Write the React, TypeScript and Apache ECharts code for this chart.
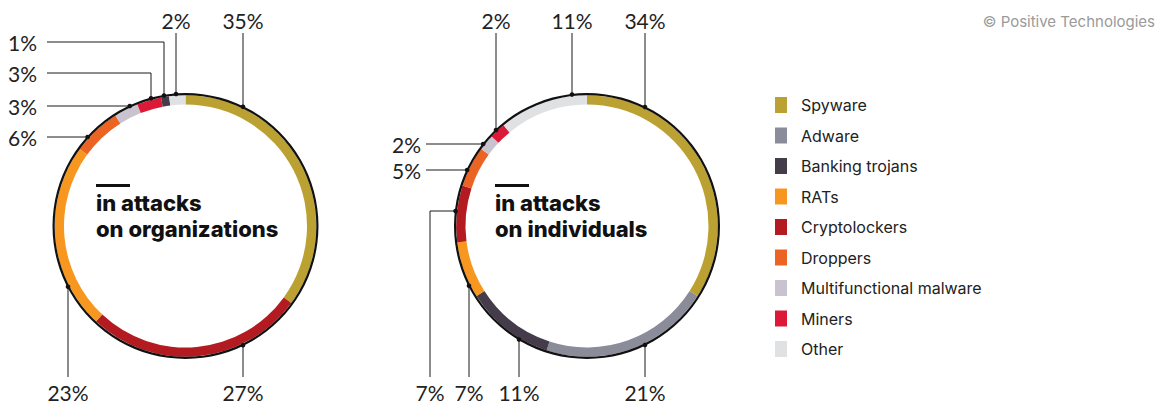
import React, { useEffect, useRef } from 'react';
import * as echarts from 'echarts';

// ---------- data ----------
const categories = [
  'Spyware',
  'Adware',
  'Banking trojans',
  'RATs',
  'Cryptolockers',
  'Droppers',
  'Multifunctional malware',
  'Miners',
  'Other',
];
const categoryColors = [
  '#BBA032',
  '#8A8D99',
  '#453C4B',
  '#F7971F',
  '#B31B21',
  '#EB6424',
  '#C8C3CF',
  '#DC1A37',
  '#E0E1E3',
];

// attacks on organizations (clockwise from top)
const orgCategories = [
  'Spyware',
  'Cryptolockers',
  'RATs',
  'Droppers',
  'Multifunctional malware',
  'Miners',
  'Banking trojans',
  'Other',
];
const orgValues = [35, 27, 23, 6, 3, 3, 1, 2];

// attacks on individuals (clockwise from top)
const indCategories = [
  'Spyware',
  'Adware',
  'Banking trojans',
  'RATs',
  'Cryptolockers',
  'Droppers',
  'Multifunctional malware',
  'Miners',
  'Other',
];
const indValues = [34, 21, 11, 7, 7, 5, 2, 2, 11];

const orgTitle = 'in attacks\non organizations';
const indTitle = 'in attacks\non individuals';
const copyright = '© Positive Technologies';

// ---------- layout ----------
type Kind = 'top' | 'bottom' | 'left' | 'elbow' | 'elbowUp';
type Spec = { kind: Kind; x?: number; y?: number };

const ORG_CENTER = [185.5, 226];
const IND_CENTER = [587, 226];
const R_IN = 121.5;
const R_BAND = 130.8;
const R_OUT = 133;
const R_ANCHOR = 132.3;
const TOP_TEXT_Y = 20.5;
const TOP_LINE_Y = 33;
const BOTTOM_TEXT_Y = 392;
const BOTTOM_LINE_Y = 377;

const orgLabelSpecs: Spec[] = [
  { kind: 'top', x: 243 },
  { kind: 'bottom', x: 243 },
  { kind: 'bottom', x: 68 },
  { kind: 'left', y: 137 },
  { kind: 'left', y: 106 },
  { kind: 'elbow', x: 151, y: 73 },
  { kind: 'elbow', x: 164, y: 42 },
  { kind: 'top', x: 176 },
];
const indLabelSpecs: Spec[] = [
  { kind: 'top', x: 645 },
  { kind: 'bottom', x: 645 },
  { kind: 'bottom', x: 519 },
  { kind: 'bottom', x: 469 },
  { kind: 'elbowUp', x: 430, y: 211 },
  { kind: 'left', y: 170 },
  { kind: 'left', y: 144 },
  { kind: 'top', x: 496 },
  { kind: 'top', x: 572 },
];

const LABEL_FONT = 'Lato';
const UI_FONT = 'Inter';
const TEXT_COLOR = '#222';

function anchorPoint(center: number[], s: Spec): number[] {
  const [cx, cy] = center;
  const r = R_ANCHOR;
  if (s.kind === 'top' || s.kind === 'elbow') {
    const dx = (s.x as number) - cx;
    return [s.x as number, cy - Math.sqrt(r * r - dx * dx)];
  }
  if (s.kind === 'bottom') {
    const dx = (s.x as number) - cx;
    return [s.x as number, cy + Math.sqrt(r * r - dx * dx)];
  }
  const dy = (s.y as number) - cy;
  return [cx - Math.sqrt(r * r - dy * dy), s.y as number];
}

function makeLayout(center: number[], specs: Spec[], leftTextX: number, leftLineX: number) {
  return (params: any) => {
    const s = specs[params.dataIndex];
    if (!s) return {};
    const a = anchorPoint(center, s);
    switch (s.kind) {
      case 'top':
        return {
          x: s.x, y: TOP_TEXT_Y, align: 'center', verticalAlign: 'middle',
          labelLinePoints: [a, [s.x, TOP_LINE_Y]],
        };
      case 'bottom':
        return {
          x: s.x, y: BOTTOM_TEXT_Y, align: 'center', verticalAlign: 'middle',
          labelLinePoints: [a, [s.x, BOTTOM_LINE_Y]],
        };
      case 'left':
        return {
          x: leftTextX, y: s.y, align: 'left', verticalAlign: 'middle',
          labelLinePoints: [a, [leftLineX, s.y]],
        };
      case 'elbow':
        return {
          x: leftTextX, y: s.y, align: 'left', verticalAlign: 'middle',
          labelLinePoints: [a, [s.x, s.y], [leftLineX, s.y]],
        };
      case 'elbowUp':
      default:
        return {
          x: s.x, y: BOTTOM_TEXT_Y, align: 'center', verticalAlign: 'middle',
          labelLinePoints: [a, [s.x, s.y], [s.x, BOTTOM_LINE_Y]],
        };
    }
  };
}

function colorOf(name: string) {
  return categoryColors[categories.indexOf(name)];
}

function ringSeries(center: number[], names: string[], values: number[], specs: Spec[], leftTextX: number, leftLineX: number) {
  return {
    type: 'pie',
    center,
    radius: [R_IN, R_BAND],
    startAngle: 90,
    clockwise: true,
    avoidLabelOverlap: false,
    silent: true,
    emphasis: { disabled: true },
    itemStyle: { borderWidth: 0 },
    label: {
      show: true,
      position: 'outside',
      formatter: '{c}%',
      fontFamily: LABEL_FONT,
      fontSize: 21,
      lineHeight: 19,
      fontWeight: 400,
      color: TEXT_COLOR,
      overflow: 'none',
    },
    labelLine: {
      show: true,
      length: 10,
      length2: 10,
      smooth: false,
      lineStyle: { color: '#1a1a1a', width: 1 },
    },
    labelLayout: makeLayout(center, specs, leftTextX, leftLineX),
    data: names.map((n, i) => ({ name: n, value: values[i], itemStyle: { color: colorOf(n) } })),
  };
}

function outlineSeries(center: number[]) {
  return {
    type: 'pie',
    center,
    radius: [R_BAND, R_OUT],
    silent: true,
    emphasis: { disabled: true },
    label: { show: false },
    labelLine: { show: false },
    itemStyle: { color: '#111' },
    data: [{ name: '', value: 1 }],
  };
}

function dots(center: number[], specs: Spec[]) {
  return specs.map((s) => {
    const a = anchorPoint(center, s);
    return { type: 'circle', shape: { cx: a[0], cy: a[1], r: 2.3 }, style: { fill: '#111' }, z: 100 };
  });
}

function centerTitle(x: number, text: string) {
  return [
    { type: 'rect', shape: { x, y: 184, width: 34, height: 3 }, style: { fill: '#111' }, z: 50 },
    {
      type: 'text', x, y: 190, z: 50,
      style: { text, font: `800 22px ${UI_FONT}`, fill: '#111', lineHeight: 26, textVerticalAlign: 'top' },
    },
  ];
}

export default function App() {
  const ref = useRef<HTMLDivElement>(null);
  useEffect(() => {
    document.body.style.margin = '0';
    if (!ref.current) return;
    const chart = echarts.init(ref.current, undefined, { renderer: 'svg' });
    chart.setOption({
      animation: false,
      backgroundColor: '#fff',
      title: {
        text: copyright,
        right: -2,
        top: 9,
        textStyle: { fontFamily: UI_FONT, fontSize: 15, fontWeight: 'normal', color: '#9a9a9a' },
      },
      legend: {
        orient: 'vertical',
        left: 770,
        top: 92,
        icon: 'rect',
        itemWidth: 12,
        itemHeight: 16,
        itemGap: 14.5,
        selectedMode: false,
        data: categories,
        textStyle: { fontFamily: UI_FONT, fontSize: 16, color: TEXT_COLOR, lineHeight: 16, padding: [0, 0, 0, 9] },
      },
      series: [
        ringSeries(ORG_CENTER, orgCategories, orgValues, orgLabelSpecs, 8, 47),
        outlineSeries(ORG_CENTER),
        ringSeries(IND_CENTER, indCategories, indValues, indLabelSpecs, 392, 426),
        outlineSeries(IND_CENTER),
      ],
      graphic: [
        ...dots(ORG_CENTER, orgLabelSpecs),
        ...dots(IND_CENTER, indLabelSpecs),
        ...centerTitle(96, orgTitle),
        ...centerTitle(495, indTitle),
      ],
    });
    return () => chart.dispose();
  }, []);
  return <div ref={ref} style={{ width: 1158, height: 403 }} />;
}
